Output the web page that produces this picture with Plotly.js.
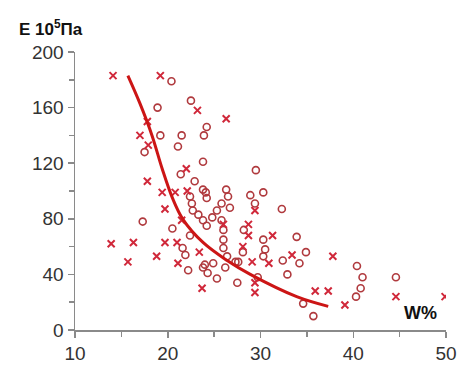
<!DOCTYPE html>
<html>
<head>
<meta charset="utf-8">
<script src="https://cdn.plot.ly/plotly-3.0.1.min.js"></script>
<style>html,body{margin:0;padding:0;background:#fff;}#chart{width:459px;height:365px;}</style>
</head>
<body>
<div id="chart"></div>
<script>
// Crosses (×)
const crossW = [14.1,19.2,23.2,26.3,17.8,17.0,17.9,22.0,17.8,19.4,20.8,22.1,19.7,21.5,13.9,15.7,16.3,18.8,19.7,21.0,21.1,23.4,23.7,26.0,28.7,29.4,28.1,29.1,30.9,31.3,33.4,29.4,29.4,35.9,37.3,37.8,39.1,44.6,49.9,28.7];
const crossE = [183,183,158,152,150,140,133,116,107,99,99,100,87,79,62,49,63,53,63,63,48,56,30,76,76,86,60,49,48,68,54,34,27,28,28,53,18,24,24,68];
// Circles (o)
const circW = [20.4,18.9,22.5,19.2,21.5,21.1,23.9,24.2,23.8,17.5,21.4,22.9,29.5,17.3,20.5,23.8,24.1,24.2,26.3,26.5,26.7,28.9,30.3,29.4,32.3,22.4,22.6,22.7,23.3,23.8,24.2,24.8,25.3,25.8,25.8,26.0,26.0,26.0,26.4,27.6,28.2,30.3,30.5,30.3,32.4,32.9,33.9,34.2,34.9,29.7,27.5,24.0,23.8,24.9,25.3,24.3,22.2,21.6,21.9,22.4,34.6,35.7,40.4,41.0,40.8,40.3,44.6,27.3,28.1,26.2];
const circE = [179,160,165,140,140,132,140,146,121,128,112,107,115,78,73,101,99,95,101,96,88,97,99,91,87,96,91,86,83,79,75,81,86,91,79,72,65,59,53,49,72,65,58,53,50,40,67,48,56,38,34,47,45,48,37,41,43,59,54,68,19,10,46,38,30,24,38,49,56,45];
// Fitted curve
const fitW = [15.7,17.0,18.3,19.4,20.5,21.6,23.8,26.4,28.9,33.9,37.3];
const fitE = [183,163,140,116,95,80,63,50,40,24,17];

const xTicks = [10,20,30,40,50];
const yTicks = [0,40,80,120,160,200];

const traces = [
  {x: circW, y: circE, type:'scatter', mode:'markers',
   marker:{symbol:'circle-open', size:7, color:'#b03a3e', line:{width:1.6, color:'#b03a3e'}}},
  {x: crossW, y: crossE, type:'scatter', mode:'markers',
   marker:{symbol:'x-thin-open', size:7, color:'#d0283a', line:{width:2, color:'#d0283a'}}},
  {x: fitW, y: fitE, type:'scatter', mode:'lines',
   line:{shape:'spline', smoothing:1, color:'#cc1515', width:3}}
];

const axisFont = {family:'Liberation Sans, Arial, sans-serif', size:19, color:'#333'};
const layout = {
  width:459, height:365,
  margin:{l:75, r:13, t:52, b:35},
  paper_bgcolor:'#fff', plot_bgcolor:'#fff',
  showlegend:false,
  xaxis:{range:[10,50], tickvals:xTicks, ticktext:xTicks.map(String), showgrid:false, zeroline:false,
    showline:true, linecolor:'#8a8a8a', linewidth:1.5, ticks:'outside', ticklen:6, tickcolor:'#8a8a8a', tickwidth:1.5,
    tickfont:axisFont,
    minor:{tickvals:[15,25,35,45], ticks:'outside', ticklen:5, tickcolor:'#8a8a8a', tickwidth:1.5}},
  yaxis:{range:[0,200], tickvals:yTicks, ticktext:yTicks.map(String), showgrid:false, zeroline:false,
    showline:true, linecolor:'#8a8a8a', linewidth:1.5, ticks:'outside', ticklen:6, tickcolor:'#8a8a8a', tickwidth:1.5,
    tickfont:axisFont,
    minor:{tickvals:[20,60,100,140,180], ticks:'outside', ticklen:5, tickcolor:'#8a8a8a', tickwidth:1.5}},
  annotations:[
    {text:'<b>E 10<sup>5</sup>Па</b>', xref:'paper', yref:'paper', x:-0.155, y:1.086, xanchor:'left', yanchor:'middle',
     showarrow:false, font:{family:'Liberation Sans, Arial, sans-serif', size:17, color:'#111'}},
    {text:'<b>W%</b>', xref:'paper', yref:'paper', x:0.93, y:0.06, xanchor:'center', yanchor:'middle',
     showarrow:false, font:{family:'Liberation Sans, Arial, sans-serif', size:18, color:'#111'}}
  ]
};
Plotly.newPlot('chart', traces, layout, {displayModeBar:false, staticPlot:true});
</script>
</body>
</html>
